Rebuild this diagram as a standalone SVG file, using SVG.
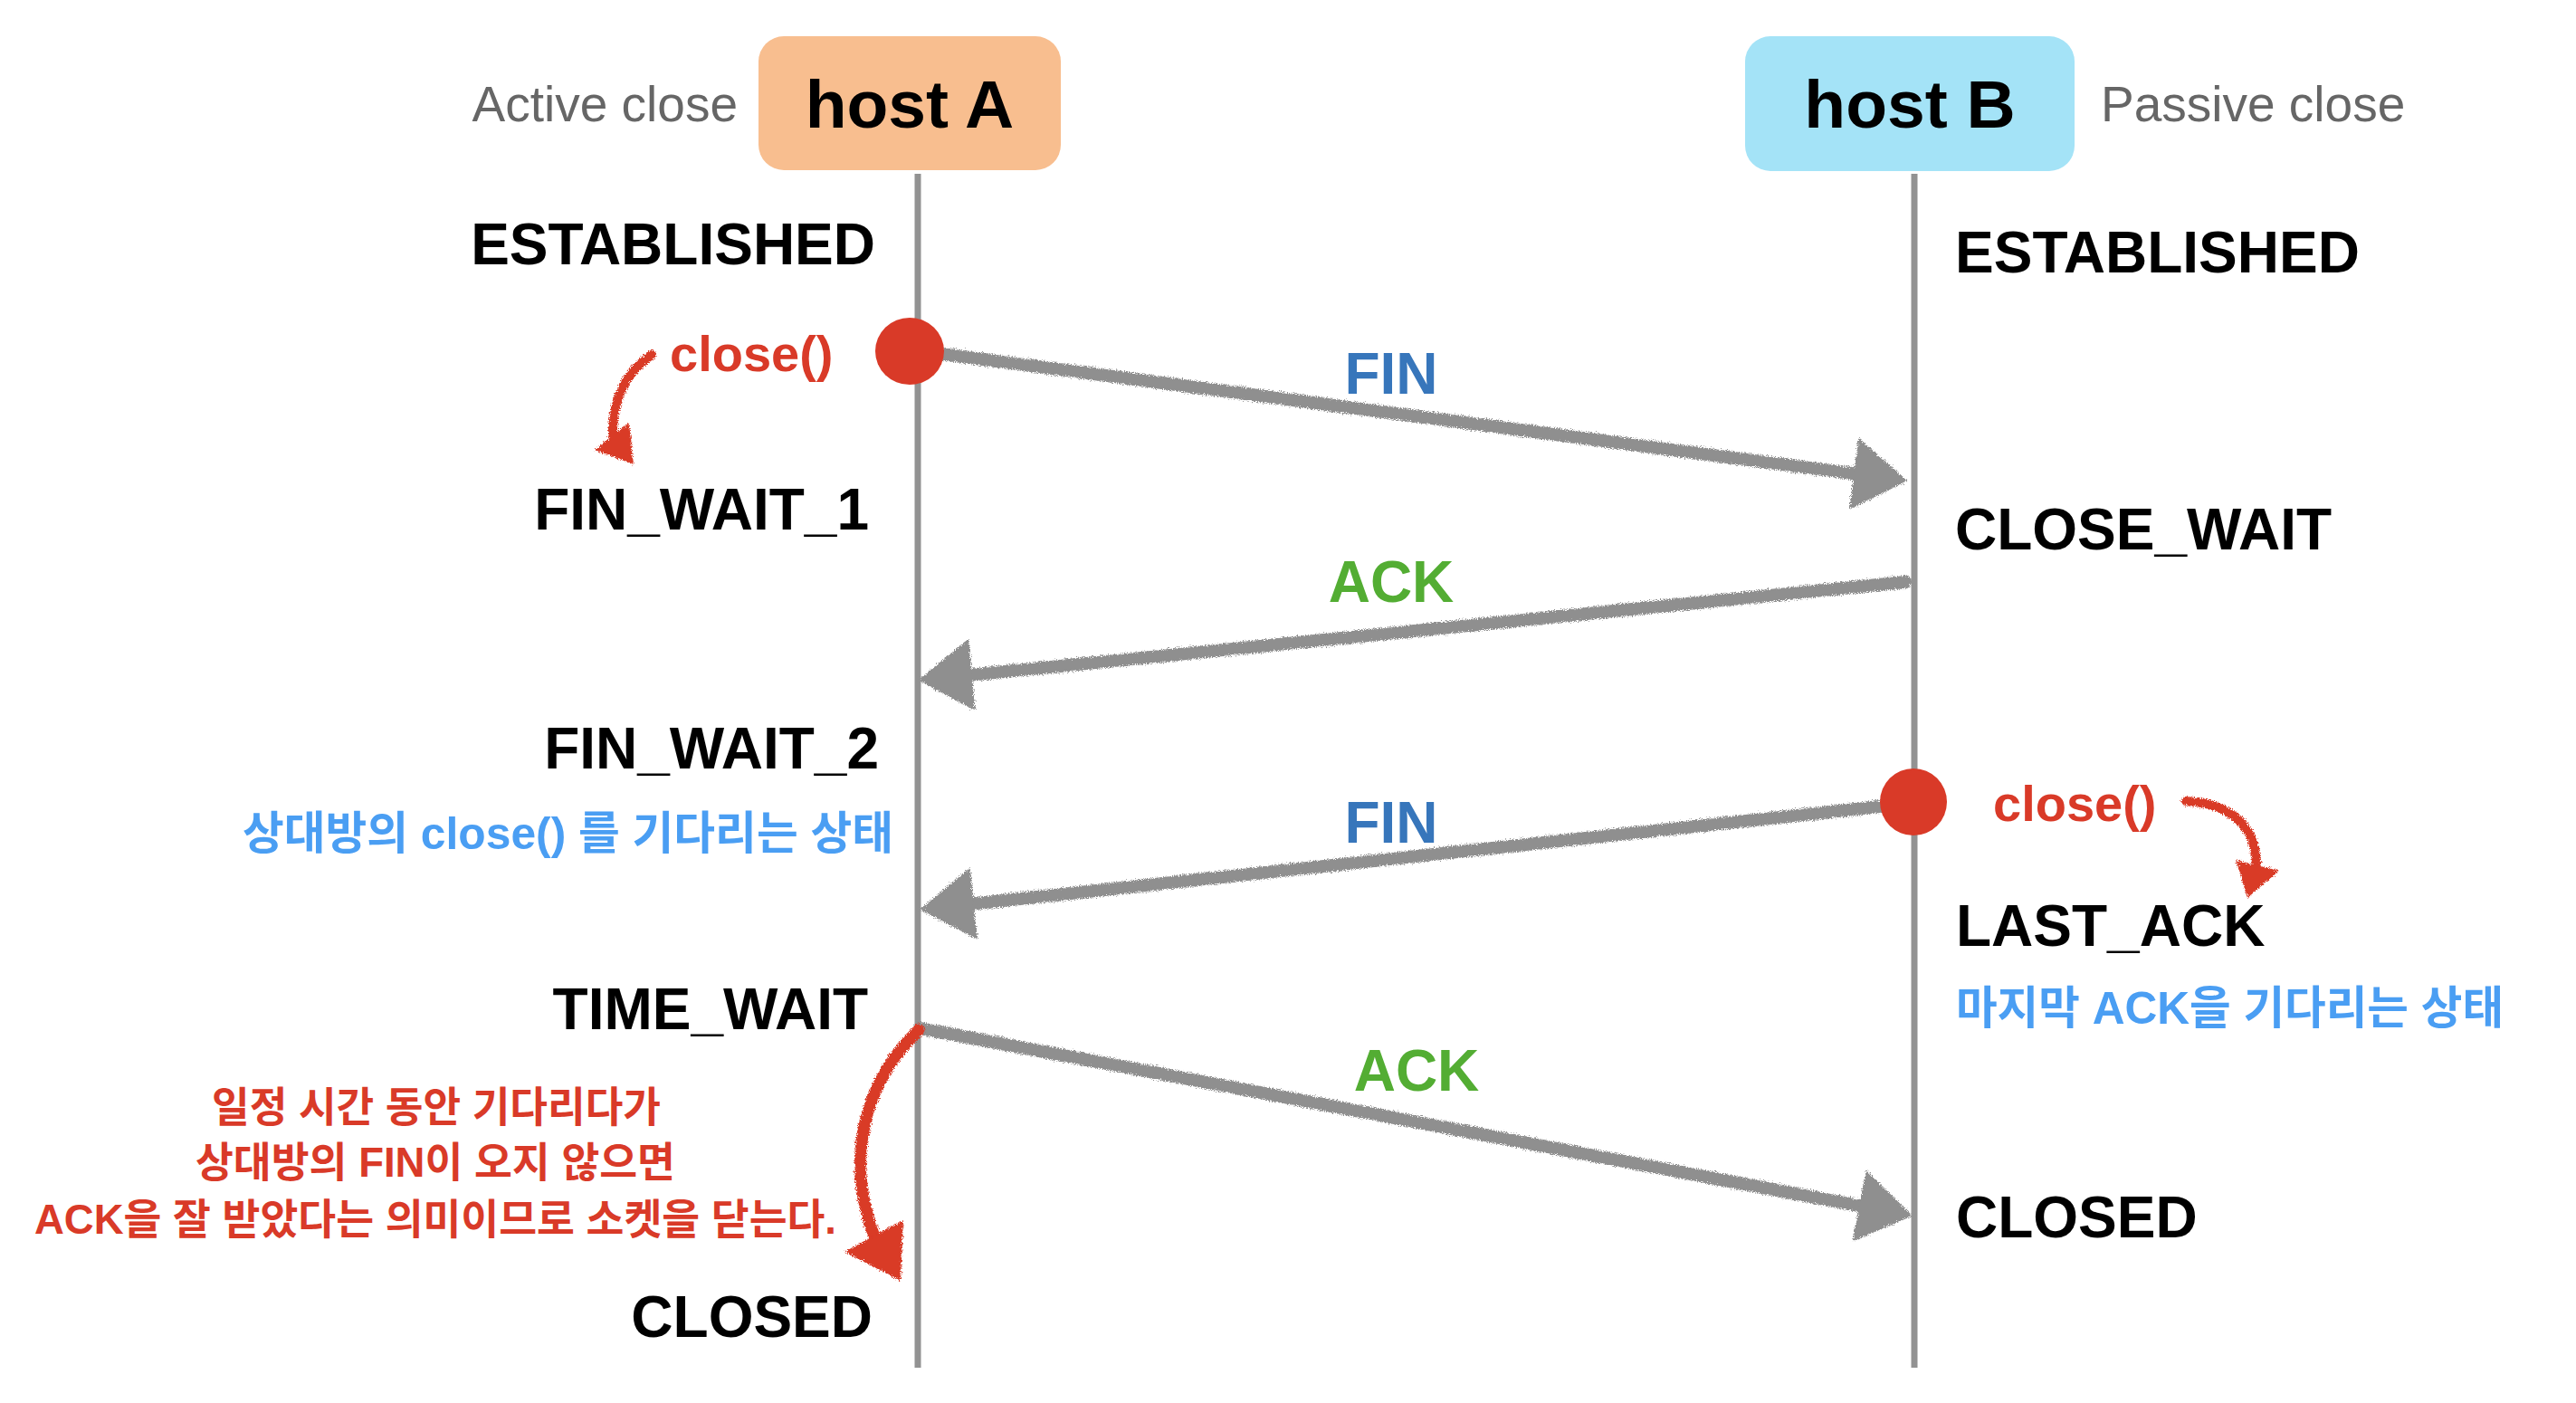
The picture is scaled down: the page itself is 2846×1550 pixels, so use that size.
<svg xmlns="http://www.w3.org/2000/svg" width="2846" height="1550" viewBox="0 0 2846 1550">
<style>
.host{font-family:"Liberation Sans",Arial,sans-serif;font-size:75px;font-weight:bold;fill:#000;text-anchor:middle}
.side{font-family:"Liberation Sans",Arial,sans-serif;font-size:55px;fill:#666}
.state{font-family:"Liberation Sans",Arial,sans-serif;font-size:64px;font-weight:bold;fill:#000}
.msg{font-family:"Liberation Sans",Arial,sans-serif;font-size:64px;font-weight:bold;text-anchor:middle}
.call{font-family:"Liberation Sans",Arial,sans-serif;font-size:56px;font-weight:bold;fill:#d93a28}
.kb{font-family:"Liberation Sans","Noto Sans CJK KR",sans-serif;font-size:50px;font-weight:bold;fill:#4a9ef3}
.kr{font-family:"Liberation Sans","Noto Sans CJK KR",sans-serif;font-size:46px;font-weight:bold;fill:#d93a28;text-anchor:middle}
.life{stroke:#929292;stroke-width:7;fill:none}
.garrow{stroke:#8f8f8f;stroke-width:14;fill:none;stroke-linecap:round;marker-end:url(#ghead)}
.rcurve{stroke:#d93a28;fill:none;stroke-linecap:round}
.rhead{fill:#d93a28}
</style>
<defs>
<filter id="rough" filterUnits="userSpaceOnUse" x="0" y="0" width="2846" height="1550">
<feTurbulence type="fractalNoise" baseFrequency="0.9" numOctaves="2" seed="4" result="n"/>
<feDisplacementMap in="SourceGraphic" in2="n" scale="7" xChannelSelector="R" yChannelSelector="G"/>
</filter>
<marker id="ghead" viewBox="0 0 60 80" refX="5" refY="40" markerWidth="60" markerHeight="80" markerUnits="userSpaceOnUse" orient="auto">
<path d="M0,0 L60,40 L0,80 Z" fill="#8f8f8f"/>
</marker>
</defs>
<rect width="2846" height="1550" fill="#fff"/>

<g id="hostA">
<rect x="838" y="40" width="334" height="148" rx="28" fill="#f8be8f"/>
<text class="host" x="1005" y="141">host A</text>
<text class="side" x="815" y="134" text-anchor="end">Active close</text>
</g>
<g id="hostB">
<rect x="1928" y="40" width="364" height="149" rx="28" fill="#a4e3f7"/>
<text class="host" x="2110" y="141">host B</text>
<text class="side" x="2321" y="134">Passive close</text>
</g>

<g id="lifelines">
<line class="life" x1="1014" y1="192" x2="1014" y2="1511"/>
<line class="life" x1="2115" y1="192" x2="2115" y2="1511"/>
</g>

<g id="connectors" filter="url(#rough)">
<path class="garrow" d="M1040,391 L2053,524"/>
<path class="garrow" d="M2105,643 L1069,746"/>
<path class="garrow" d="M2077,891 L1071,999"/>
<path class="garrow" d="M1016,1136 L2059,1333"/>
<path class="rcurve" stroke-width="10" d="M720,392 C700,405 676,432 677,482"/>
<polygon class="rhead" points="657,497 695,467 700,513"/>
<path class="rcurve" stroke-width="10" d="M2415,885 C2455,887 2492,905 2493,955"/>
<polygon class="rhead" points="2470,950 2518,962 2483,992"/>
<path class="rcurve" stroke-width="13" d="M1015,1138 C962,1188 930,1270 966,1366"/>
<polygon class="rhead" points="933,1383 998,1348 995,1415"/>
</g>

<g id="dots">
<ellipse cx="1005" cy="388" rx="38" ry="37" fill="#d93a28"/>
<ellipse cx="2114" cy="886" rx="37" ry="37" fill="#d93a28"/>
</g>

<g id="labels">
<text class="msg" x="1537" y="435" fill="#3776bb">FIN</text>
<text class="msg" x="1537" y="665" fill="#53ad33">ACK</text>
<text class="msg" x="1537" y="931" fill="#3776bb">FIN</text>
<text class="msg" x="1565" y="1205" fill="#53ad33">ACK</text>
<text class="call" x="740" y="410">close()</text>
<text class="call" x="2202" y="907">close()</text>
</g>

<g id="statesA" text-anchor="end">
<text class="state" x="967" y="292">ESTABLISHED</text>
<text class="state" x="960" y="585">FIN_WAIT_1</text>
<text class="state" x="971" y="849">FIN_WAIT_2</text>
<text class="kb" x="987" y="938" textLength="719" lengthAdjust="spacingAndGlyphs">상대방의 close() 를 기다리는 상태</text>
<text class="state" x="959" y="1137">TIME_WAIT</text>
<text class="state" x="964" y="1477">CLOSED</text>
</g>

<g id="statesB">
<text class="state" x="2160" y="301">ESTABLISHED</text>
<text class="state" x="2160" y="607">CLOSE_WAIT</text>
<text class="state" x="2161" y="1045">LAST_ACK</text>
<text class="kb" x="2161" y="1131" textLength="605" lengthAdjust="spacingAndGlyphs">마지막 ACK을 기다리는 상태</text>
<text class="state" x="2161" y="1367">CLOSED</text>
</g>

<g id="timewaitNote">
<text class="kr" x="482" y="1239" textLength="496" lengthAdjust="spacingAndGlyphs">일정 시간 동안 기다리다가</text>
<text class="kr" x="481" y="1300" textLength="530" lengthAdjust="spacingAndGlyphs">상대방의 FIN이 오지 않으면</text>
<text class="kr" x="481" y="1363" textLength="886" lengthAdjust="spacingAndGlyphs">ACK을 잘 받았다는 의미이므로 소켓을 닫는다.</text>
</g>
</svg>
